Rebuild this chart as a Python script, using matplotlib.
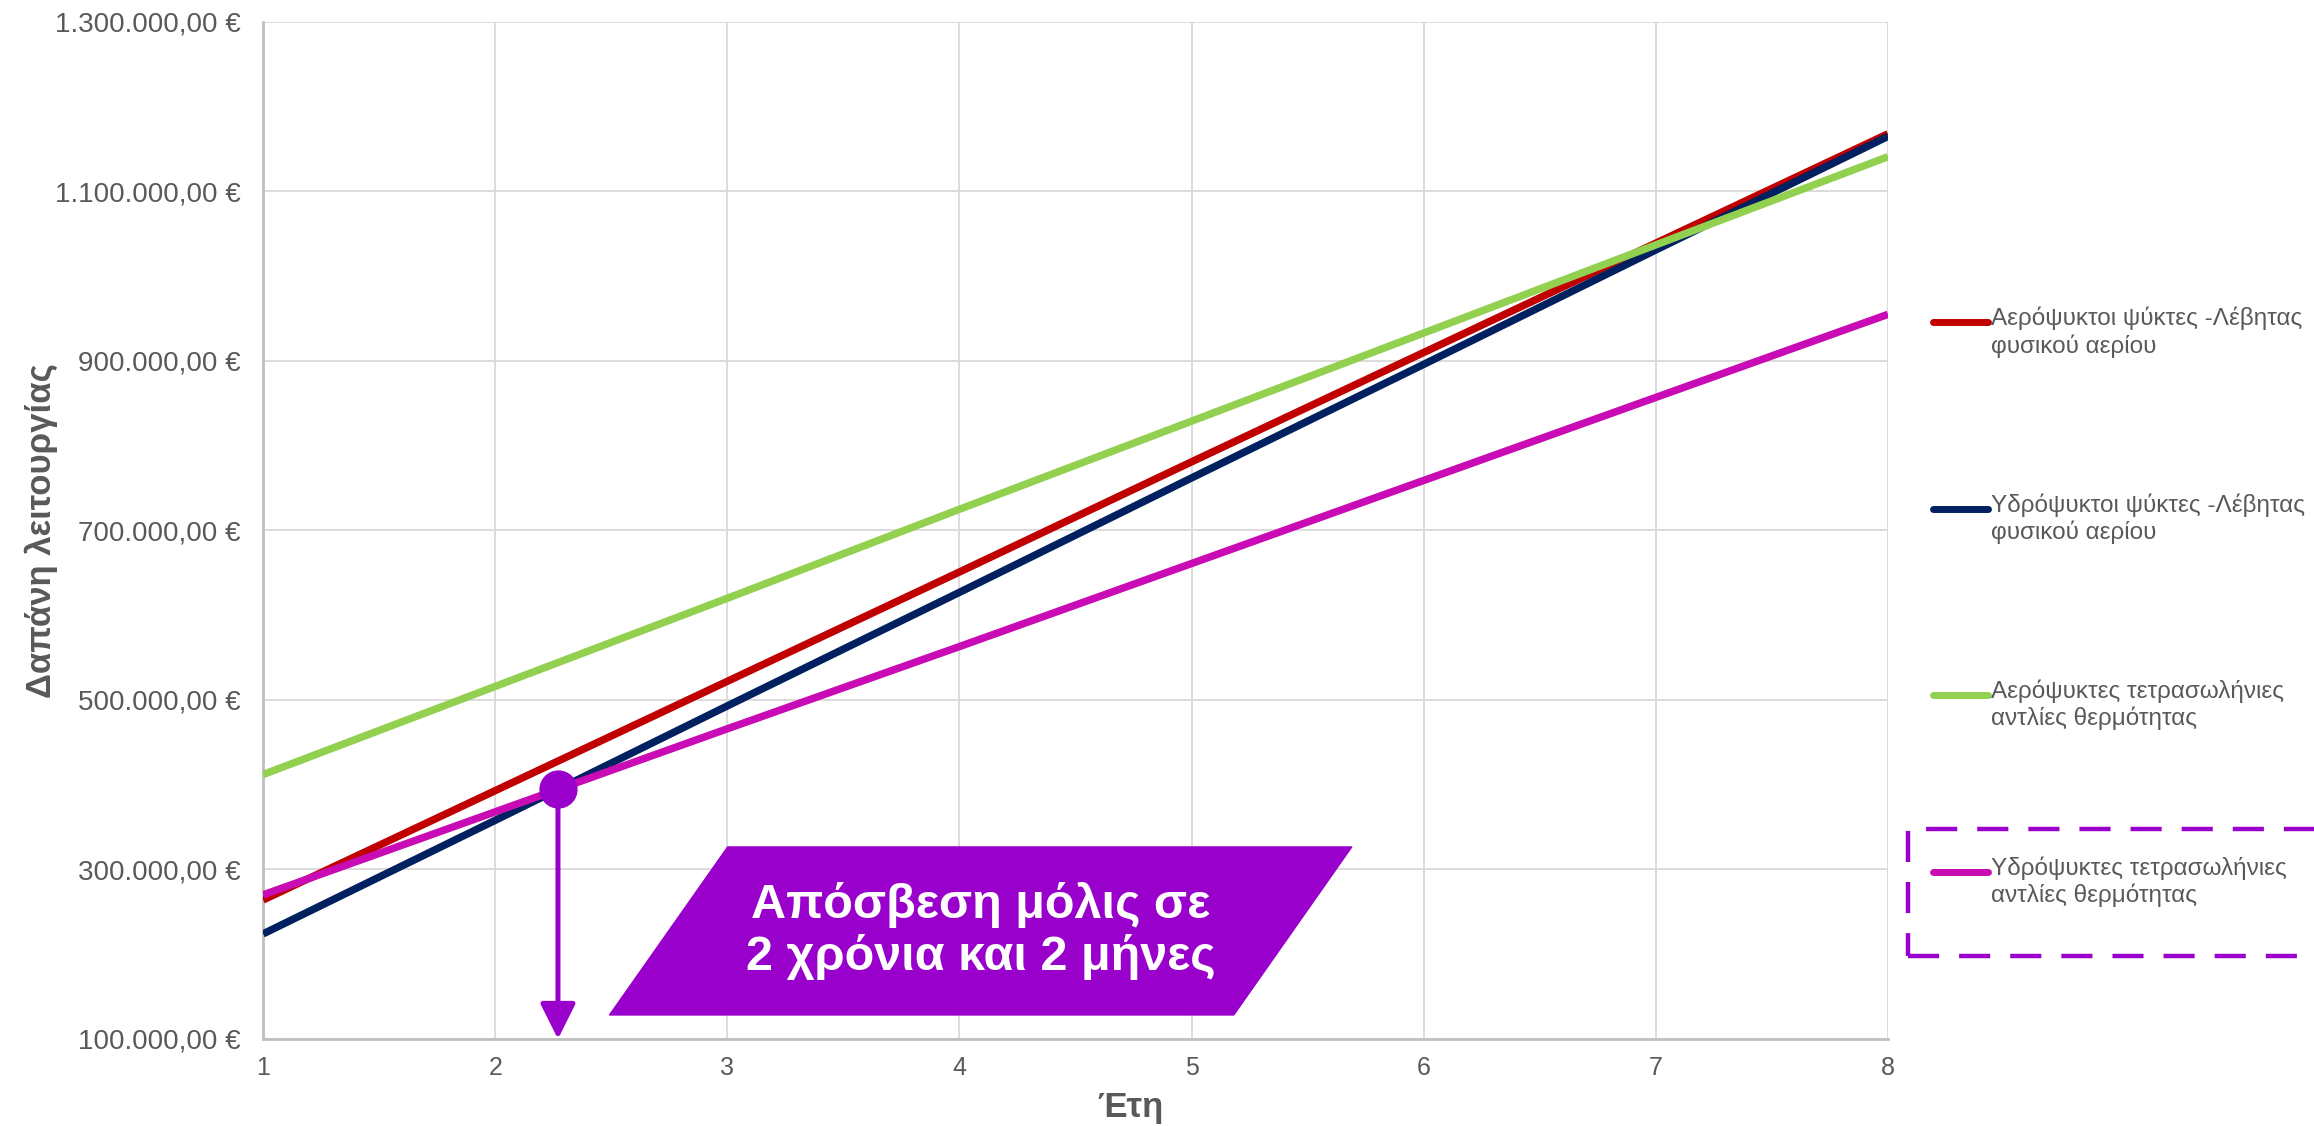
import matplotlib
matplotlib.use('Agg')
import matplotlib.pyplot as plt
from matplotlib import ticker
from matplotlib.lines import Line2D
from matplotlib.patches import Polygon, Rectangle
import numpy as np

plt.rcParams['font.family'] = ['Liberation Sans', 'DejaVu Sans']

# --- data ---
years = [1, 2, 3, 4, 5, 6, 7, 8]
aero_boiler = [264000, 393000, 522000, 651000, 781000, 910000, 1039000, 1168000]
hydro_boiler = [224000, 358000, 493000, 627000, 762000, 896000, 1031000, 1165000]
aero_hp = [412000, 516000, 620000, 725000, 829000, 933000, 1037000, 1141000]
hydro_hp = [270000, 368000, 466000, 563000, 661000, 759000, 857000, 955000]

series_labels = ['Αερόψυκτοι ψύκτες -Λέβητας\nφυσικού αερίου',
                 'Υδρόψυκτοι ψύκτες -Λέβητας\nφυσικού αερίου',
                 'Αερόψυκτες τετρασωλήνιες\nαντλίες θερμότητας',
                 'Υδρόψυκτες τετρασωλήνιες\nαντλίες θερμότητας']
series_colors = ['#C00000', '#002060', '#92D050', '#C80BB4']
all_series = [aero_boiler, hydro_boiler, aero_hp, hydro_hp]

y_ticks = [100000, 300000, 500000, 700000, 900000, 1100000, 1300000]
note_text = 'Απόσβεση μόλις σε\n2 χρόνια και 2 μήνες'
purple = '#9900CC'
grey_txt = '#595959'

fig = plt.figure(figsize=(23.14, 11.26), dpi=100)
ax = fig.add_axes([0.1137, 0.0773, 0.7022, 0.9032])

for vals, col in zip(all_series, series_colors):
    ax.plot(years, vals, color=col, lw=5.4, solid_capstyle='butt', zorder=3)

ax.set_xlim(1, 8)
ax.set_ylim(100000, 1300000)
ax.set_xticks(years)
ax.set_yticks(y_ticks)

def euro(v, pos):
    s = f'{v:,.2f}'
    s = s.replace(',', 'X').replace('.', ',').replace('X', '.')
    return s + ' €'

ax.yaxis.set_major_formatter(ticker.FuncFormatter(euro))
ax.tick_params(axis='y', length=0, pad=16, labelsize=20, labelcolor=grey_txt)
ax.tick_params(axis='x', length=0, pad=12, labelsize=18, labelcolor=grey_txt)

ax.grid(True, color='#D9D9D9', lw=1.3, zorder=0)
ax.set_axisbelow(True)
for s in ['top', 'right']:
    ax.spines[s].set_visible(False)
for s in ['left', 'bottom']:
    ax.spines[s].set_color('#BFBFBF')
    ax.spines[s].set_linewidth(2)

ax.set_xlabel('Έτη', fontsize=25, fontweight='bold', color=grey_txt)
ax.xaxis.set_label_coords(0.534, -0.067)
ax.xaxis.label.set_va('center')
ax.set_ylabel('Δαπάνη λειτουργίας', fontsize=25, fontweight='bold', color=grey_txt)
ax.yaxis.set_label_coords(-0.1366, 0.5)
ax.yaxis.label.set_va('center')

# payback point: where the hydro heat pump line meets the hydro boiler line
d = np.array(hydro_boiler) - np.array(hydro_hp)
i = int(np.where(np.sign(d[:-1]) != np.sign(d[1:]))[0][0])
t = d[i] / (d[i] - d[i + 1])
xi = years[i] + t * (years[i + 1] - years[i])
yi = hydro_hp[i] + t * (hydro_hp[i + 1] - hydro_hp[i])

ax.annotate('', xy=(xi, 100000), xytext=(xi, yi),
            arrowprops=dict(arrowstyle='-|>,head_length=0.4,head_width=0.2',
                            color=purple, lw=3.6, mutation_scale=54,
                            shrinkA=0, shrinkB=0),
            zorder=5, annotation_clip=False)
ax.plot([xi], [yi], 'o', ms=26.5, color=purple, zorder=6, clip_on=False)

# call-out box
box = Polygon([(0.2132, 0.0236), (0.2859, 0.1888), (0.6700, 0.1888), (0.5974, 0.0236)],
              closed=True, transform=ax.transAxes, facecolor=purple,
              edgecolor=purple, lw=1, joinstyle='round', zorder=7)
ax.add_patch(box)
ax.text(0.4416, 0.1062, note_text, transform=ax.transAxes, ha='center', va='center',
        fontsize=35, fontweight='bold', color='white', linespacing=1.15,
        family=['Liberation Sans Narrow', 'Liberation Sans'], zorder=8)

# legend, drawn by hand so the handle sits on the first text line
leg_y = [0.714, 0.548, 0.383, 0.2256]
for lab, col, y in zip(series_labels, series_colors, leg_y):
    fig.add_artist(Line2D([0.8353, 0.8591], [y, y], color=col, lw=5,
                          solid_capstyle='round', transform=fig.transFigure))
    fig.text(0.8604, y + 0.0135, lab, fontsize=17.5, color=grey_txt,
             ha='left', va='top', linespacing=1.2)

frame = Rectangle((0.8245, 0.151), 0.3, 0.1128, transform=fig.transFigure,
                  fill=False, edgecolor=purple, lw=3.2, clip_on=False)
frame.set_linestyle((0, (7, 4.5)))
fig.add_artist(frame)

fig.savefig('out.png', dpi=100)
